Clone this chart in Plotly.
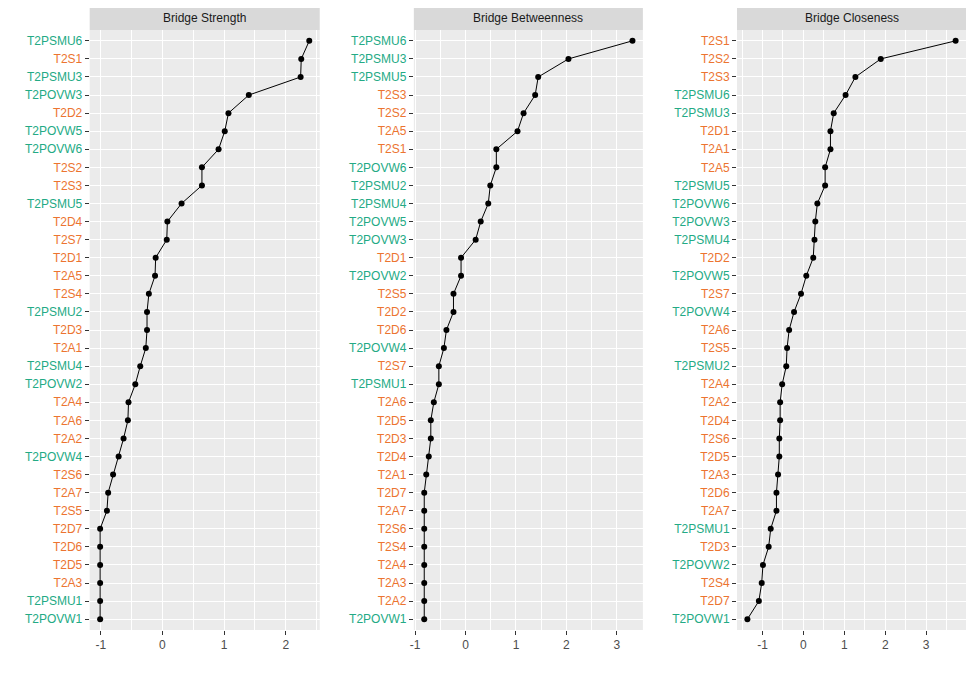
import plotly.graph_objects as go

# ---------------- data ----------------
strength_nodes = ["T2PSMU6", "T2S1", "T2PSMU3", "T2POVW3", "T2D2", "T2POVW5", "T2POVW6", "T2S2",
                  "T2S3", "T2PSMU5", "T2D4", "T2S7", "T2D1", "T2A5", "T2S4", "T2PSMU2",
                  "T2D3", "T2A1", "T2PSMU4", "T2POVW2", "T2A4", "T2A6", "T2A2", "T2POVW4",
                  "T2S6", "T2A7", "T2S5", "T2D7", "T2D6", "T2D5", "T2A3", "T2PSMU1", "T2POVW1"]
strength_vals = [2.38, 2.25, 2.24, 1.40, 1.07, 1.01, 0.91, 0.64,
                 0.64, 0.31, 0.08, 0.07, -0.11, -0.12, -0.22, -0.25,
                 -0.25, -0.27, -0.36, -0.44, -0.55, -0.56, -0.63, -0.71,
                 -0.80, -0.88, -0.90, -1.01, -1.01, -1.01, -1.01, -1.01, -1.01]

betweenness_nodes = ["T2PSMU6", "T2PSMU3", "T2PSMU5", "T2S3", "T2S2", "T2A5", "T2S1", "T2POVW6",
                     "T2PSMU2", "T2PSMU4", "T2POVW5", "T2POVW3", "T2D1", "T2POVW2", "T2S5", "T2D2",
                     "T2D6", "T2POVW4", "T2S7", "T2PSMU1", "T2A6", "T2D5", "T2D3", "T2D4",
                     "T2A1", "T2D7", "T2A7", "T2S6", "T2S4", "T2A4", "T2A3", "T2A2", "T2POVW1"]
betweenness_vals = [3.31, 2.04, 1.44, 1.38, 1.15, 1.03, 0.61, 0.61,
                    0.49, 0.45, 0.30, 0.20, -0.09, -0.09, -0.24, -0.24,
                    -0.38, -0.43, -0.53, -0.53, -0.63, -0.69, -0.69, -0.73,
                    -0.78, -0.82, -0.82, -0.82, -0.82, -0.82, -0.82, -0.82, -0.82]

closeness_nodes = ["T2S1", "T2S2", "T2S3", "T2PSMU6", "T2PSMU3", "T2D1", "T2A1", "T2A5",
                   "T2PSMU5", "T2POVW6", "T2POVW3", "T2PSMU4", "T2D2", "T2POVW5", "T2S7", "T2POVW4",
                   "T2A6", "T2S5", "T2PSMU2", "T2A4", "T2A2", "T2D4", "T2S6", "T2D5",
                   "T2A3", "T2D6", "T2A7", "T2PSMU1", "T2D3", "T2POVW2", "T2S4", "T2D7", "T2POVW1"]
closeness_vals = [3.72, 1.89, 1.27, 1.03, 0.74, 0.66, 0.66, 0.53,
                  0.53, 0.34, 0.29, 0.27, 0.24, 0.07, -0.06, -0.23,
                  -0.35, -0.40, -0.42, -0.52, -0.57, -0.57, -0.59, -0.59,
                  -0.62, -0.66, -0.66, -0.80, -0.85, -0.99, -1.02, -1.09, -1.37]

panel_titles = ["Bridge Strength", "Bridge Betweenness", "Bridge Closeness"]
x_ticks = [[-1, 0, 1, 2], [-1, 0, 1, 2, 3], [-1, 0, 1, 2, 3]]

# ---------------- styling ----------------
OFF = 8                      # page body margin of the html page
W, H = 974 - OFF, 675 - OFF  # figure size
TEAL = "#23AA85"
ORANGE = "#EC7430"
FONT = "Liberation Sans, Arial, sans-serif"

def node_color(n):
    return TEAL if n.startswith("T2P") else ORANGE

def px_x(v):
    return (v - OFF) / W

def px_y(v):
    return 1 - (v - OFF) / H

panels = [(strength_nodes, strength_vals), (betweenness_nodes, betweenness_vals),
          (closeness_nodes, closeness_vals)]
x_px = [(86, 317), (411.5, 641.5), (736, 966)]
y_top_px, y_bot_px = 30, 630
strip_top_px = 7

fig = go.Figure()
shapes = []
annotations = []
for i, (nodes, vals) in enumerate(panels):
    ax = "" if i == 0 else str(i + 1)
    fig.add_trace(go.Scatter(
        x=vals, y=nodes, mode="lines+markers",
        line=dict(color="black", width=1),
        marker=dict(color="black", size=6),
        xaxis="x" + ax, yaxis="y" + ax, showlegend=False, hoverinfo="x+y"))
    lo, hi = min(vals), max(vals)
    pad = (hi - lo) * 0.05
    dom_x = [px_x(x_px[i][0]), px_x(x_px[i][1])]
    dom_y = [px_y(y_bot_px), px_y(y_top_px)]
    strip_top = px_y(strip_top_px)
    order = list(reversed(nodes))
    fig.update_layout(**{
        "xaxis" + ax: dict(
            domain=dom_x, anchor="y" + ax, range=[lo - pad, hi + pad],
            tickvals=x_ticks[i], ticktext=[str(t) for t in x_ticks[i]],
            showgrid=True, gridcolor="white", gridwidth=1.1, zeroline=False,
            minor=dict(dtick=0.5, tick0=0, showgrid=True, gridcolor="white", gridwidth=0.5,
                       ticks=""),
            ticks="outside", ticklen=4, tickcolor="#333333", tickwidth=1,
            tickfont=dict(family=FONT, size=12, color="#4D4D4D"),
            showline=False),
        "yaxis" + ax: dict(
            domain=dom_y, anchor="x" + ax, type="category",
            categoryorder="array", categoryarray=order,
            range=[-0.6, len(order) - 1 + 0.6],
            tickvals=order,
            ticktext=[f'<span style="color:{node_color(c)}">{c}</span>' for c in order],
            showgrid=True, gridcolor="white", gridwidth=1.1, zeroline=False,
            ticks="outside", ticklen=4, tickcolor="#333333", tickwidth=1,
            tickfont=dict(family=FONT, size=12, color="#4D4D4D"),
            showline=False),
    })
    shapes.append(dict(type="rect", xref="paper", yref="paper", layer="below",
                       x0=dom_x[0], x1=dom_x[1], y0=dom_y[0], y1=dom_y[1],
                       fillcolor="#EBEBEB", line=dict(width=0)))
    shapes.append(dict(type="rect", xref="paper", yref="paper",
                       x0=dom_x[0], x1=dom_x[1], y0=dom_y[1], y1=strip_top,
                       fillcolor="#D9D9D9", line=dict(width=0)))
    annotations.append(dict(xref="paper", yref="paper", x=(dom_x[0] + dom_x[1]) / 2,
                            y=(dom_y[1] + strip_top) / 2,
                            text=panel_titles[i], showarrow=False,
                            xanchor="center", yanchor="middle",
                            font=dict(family=FONT, size=12, color="#1A1A1A")))

fig.update_layout(width=W, height=H, margin=dict(l=0, r=0, t=0, b=0),
                  paper_bgcolor="white", plot_bgcolor="rgba(0,0,0,0)",
                  shapes=shapes, annotations=annotations,
                  font=dict(family=FONT))
fig.write_html("out.html")
